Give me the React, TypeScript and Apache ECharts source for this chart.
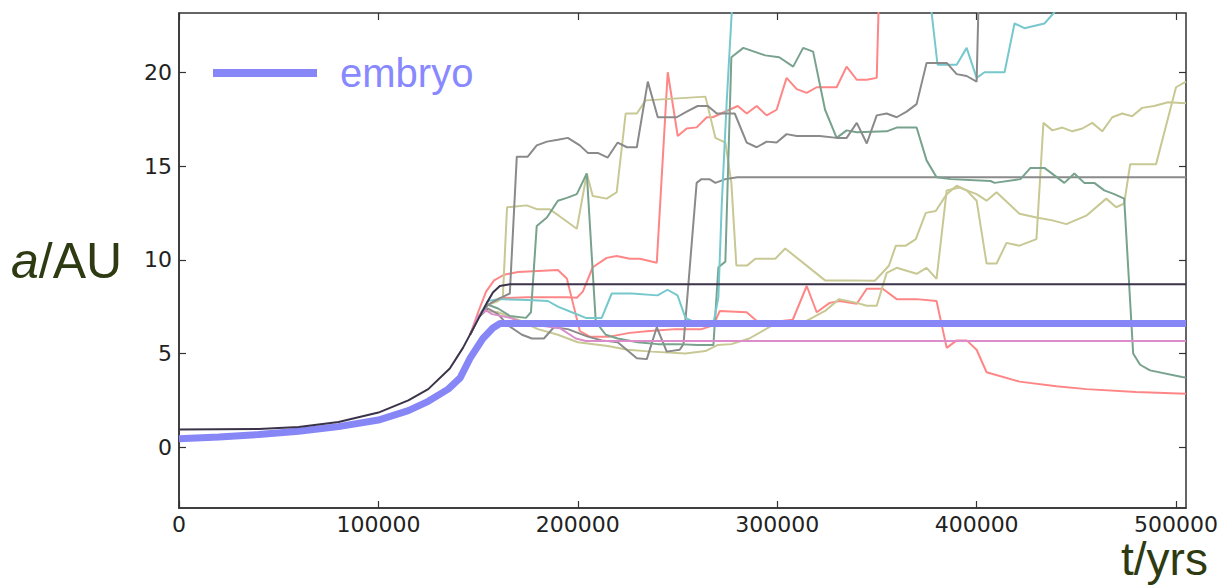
import React, { useEffect, useRef } from "react";
import * as echarts from "echarts";

// ---- data (t in years, a in AU) ----
const xTicks = [0, 100000, 200000, 300000, 400000, 500000];
const yTicks = [0, 5, 10, 15, 20];

const embryo: number[][] = [[0,0.45],[20000,0.55],[40000,0.68],[60000,0.85],[80000,1.1],[100000,1.45],[115000,1.95],[125000,2.45],[135000,3.1],[141000,3.7],[146000,4.75],[152400,5.8],[157400,6.36],[161000,6.6],[505000,6.6]];

const dark: number[][] = [[0,0.95],[40000,0.97],[60000,1.08],[80000,1.35],[100000,1.85],[115000,2.5],[125000,3.1],[135800,4.2],[142400,5.3],[149400,6.7],[154400,7.7],[157400,8.25],[160900,8.6],[166000,8.7],[505000,8.7]];

const red1: number[][] = [[146000,6.0],[150000,6.9],[155000,7.6],[160900,7.95],[174400,8.0],[194500,8.0],[199500,7.97],[202500,8.3],[207500,9.6],[214500,10.1],[219500,10.2],[226100,10.05],[231100,10.05],[239600,9.84],[245100,20.0],[250100,16.6],[254600,17.0],[259600,17.06],[264700,17.6],[267700,17.6],[280200,18.2],[284700,17.8],[289700,18.2],[294700,17.7],[299700,18.0],[304700,19.7],[309800,19.1],[314800,18.9],[319800,19.2],[329800,19.2],[334800,20.3],[339900,19.6],[344900,19.6],[349900,19.7],[351500,26]];

const red2: number[][] = [[146000,6.0],[150000,7.2],[154000,8.3],[158000,8.9],[163000,9.2],[170000,9.35],[180000,9.4],[190000,9.45],[194500,9.0],[198000,7.5],[201000,6.2],[206000,5.9],[216000,5.9],[226000,6.1],[236000,6.2],[249000,6.3],[262000,6.3],[268000,6.5],[271200,7.27],[284700,7.2],[291200,6.6],[307800,6.8],[314800,8.6],[319800,7.2],[326300,7.7],[331300,7.8],[339900,7.65],[344900,8.45],[352900,8.45],[359900,7.9],[369900,7.9],[379900,7.8],[385000,5.3],[390000,5.7],[395000,5.7],[400000,5.2],[405000,4.0],[421500,3.5],[440000,3.25],[455100,3.1],[480000,2.95],[505000,2.85]];

const gray1: number[][] = [[146000,6.0],[150000,6.9],[155000,7.6],[160000,7.9],[165900,8.2],[169400,15.5],[174900,15.5],[179400,16.1],[184500,16.3],[190000,16.4],[195000,16.5],[201000,16.1],[205000,15.7],[210000,15.7],[215000,15.45],[220000,16.25],[224600,16.0],[229600,16.0],[235100,19.5],[240100,17.6],[249600,17.6],[254600,17.9],[260100,18.2],[265200,18.2],[269700,17.8],[278700,17.8],[284700,16.25],[289700,16.0],[294700,16.3],[299700,16.25],[304700,16.7],[309800,16.6],[321300,16.6],[329800,16.5],[334800,16.5],[339900,17.3],[344900,16.2],[349900,17.7],[354900,17.8],[359900,17.6],[364900,17.9],[369900,18.3],[374900,20.5],[385000,20.5],[390000,19.9],[395000,19.8],[400000,19.5],[401500,26]];

const gray2: number[][] = [[146000,6.0],[150000,6.9],[155000,7.4],[160000,7.1],[165000,6.5],[172000,6.0],[177000,5.8],[183000,5.8],[188000,6.4],[195000,6.3],[205000,5.9],[212000,5.7],[220000,5.6],[229600,4.75],[234600,4.7],[239600,6.4],[244600,5.1],[251100,5.2],[253000,5.5],[259600,14.1],[262000,14.3],[266000,14.3],[269000,14.1],[274000,14.3],[280000,14.4],[505000,14.4]];

const olive1: number[][] = [[146000,6.0],[150000,6.9],[155000,7.6],[160000,7.8],[162400,8.0],[164500,12.8],[174400,12.9],[179400,12.7],[185700,12.7],[190500,12.35],[199500,11.65],[204500,14.6],[207500,13.4],[214500,13.26],[219500,13.6],[224000,17.8],[229600,17.8],[234000,18.5],[264000,18.7],[269000,16.5],[274000,16.25],[277000,14.1],[279500,9.7],[285000,9.7],[289000,10.05],[299000,10.05],[304000,10.6],[324000,8.9],[336000,8.9],[349000,8.88],[356000,9.68],[359500,10.75],[364500,10.75],[369500,11.1],[374500,12.5],[379500,12.6],[385000,13.5],[390000,13.95],[395000,13.7],[400000,13.15],[405000,9.8],[410000,9.8],[415000,10.9],[421500,10.75],[430000,11.1],[433500,17.3],[438000,16.9],[443000,17.05],[448000,16.85],[453000,17.0],[458000,17.3],[463000,16.85],[468000,17.6],[473000,17.8],[478000,17.65],[483000,18.1],[489000,18.2],[496000,18.4],[505000,18.35]];

const olive2: number[][] = [[146000,6.0],[150000,6.9],[152000,7.3],[160000,7.2],[170000,6.8],[180000,6.3],[190000,6.0],[200000,5.6],[215000,5.4],[225000,5.2],[237000,5.1],[254000,5.0],[264000,5.13],[270000,5.45],[277000,5.5],[286000,5.8],[291000,6.1],[297000,6.47],[307000,6.47],[314000,6.7],[324000,7.27],[331000,7.9],[339900,7.7],[344900,7.55],[349900,7.55],[354900,9.3],[359900,9.57],[369900,9.25],[374900,9.57],[379900,8.98],[385000,13.7],[391500,13.85],[400000,13.5],[405000,13.15],[410000,13.6],[421500,12.45],[430000,12.25],[438000,12.1],[445000,11.9],[455000,12.35],[465000,13.26],[470000,12.8],[474000,13.0],[477000,15.1],[490000,15.1],[500000,19.2],[505000,19.5]];

const teal: number[][] = [[146000,6.0],[150000,6.9],[155000,7.6],[160000,7.4],[166000,7.0],[174000,6.9],[176500,7.2],[179400,11.8],[184500,12.25],[190000,13.15],[194500,13.3],[199500,13.5],[204500,14.6],[209000,6.7],[214000,6.0],[220000,5.8],[230000,5.6],[240000,5.5],[250000,5.5],[260000,5.45],[268000,5.45],[270500,9.6],[274000,9.9],[277000,20.8],[283000,21.3],[294000,20.9],[301000,20.8],[308000,20.3],[313000,21.3],[318000,21.1],[324000,18.0],[329800,16.5],[334800,16.9],[339900,16.8],[354900,16.85],[359900,17.05],[369900,17.05],[374900,15.3],[379900,14.4],[387000,14.3],[407000,14.2],[409000,14.1],[422000,14.3],[427000,14.9],[434000,14.9],[444000,14.1],[449000,14.6],[454000,14.1],[459000,14.1],[464000,13.7],[469000,13.5],[474000,13.26],[478500,5.0],[482000,4.4],[487000,4.1],[503000,3.75],[505000,3.72]];

const cyan: number[][] = [[146000,6.0],[150000,6.9],[155000,7.8],[160000,7.9],[175000,7.85],[185000,7.8],[190000,7.5],[197000,7.2],[204000,6.9],[212000,6.9],[217000,8.2],[227000,8.2],[240000,8.1],[245000,8.4],[250000,8.1],[254000,6.9],[262000,6.5],[268000,6.6],[270500,8.0],[272200,13.0],[274700,18.5],[277200,23.2],[278500,26],[376000,26],[377400,23.2],[380400,20.4],[385000,20.4],[390000,20.4],[395000,21.3],[400000,19.7],[404000,20.0],[414000,20.0],[419000,22.6],[424000,22.35],[434000,22.6],[439000,23.2],[441000,26]];

const pink: number[][] = [[146000,6.0],[150000,7.0],[154000,7.3],[157000,7.1],[166000,6.9],[174000,6.6],[191000,6.35],[199000,5.8],[204000,5.67],[505000,5.67]];

const thin = [
  { name: "r1", data: red1, color: "#ff8686" },
  { name: "r2", data: red2, color: "#ff8686" },
  { name: "o1", data: olive1, color: "#c8c894" },
  { name: "o2", data: olive2, color: "#c8c894" },
  { name: "g2", data: gray2, color: "#8a8a8a" },
  { name: "t", data: teal, color: "#78a28e" },
  { name: "c", data: cyan, color: "#76c8cc" },
  { name: "g1", data: gray1, color: "#8a8a8a" },
  { name: "p", data: pink, color: "#dc8cc8" },
];

const X_MIN = 0, X_MAX = 505000, Y_MIN = -3.24, Y_MAX = 23.16;

export default function App() {
  const ref = useRef<HTMLDivElement>(null);
  useEffect(() => {
    if (!ref.current) return;
    const chart = echarts.init(ref.current, null, { renderer: "svg" });
    const mkLine = () => ({ show: true, onZero: false, lineStyle: { color: "#333", width: 1.5 } });
    const mkTick = () => ({ show: true, inside: true, length: 7, lineStyle: { color: "#333", width: 1.2 } });
    const lbl = { fontFamily: "DejaVu Sans", fontSize: 22, color: "#222" };
    // mirrored inward ticks on the top and right edges (length 7 px expressed in data units)
    const plotW = 1007, plotH = 495;
    const dx = (7 * (X_MAX - X_MIN)) / plotW;
    const dy = (7 * (Y_MAX - Y_MIN)) / plotH;
    const mirrorTicks: any[] = [
      ...xTicks.map((v) => [{ coord: [v, Y_MAX] }, { coord: [v, Y_MAX - dy] }]),
      ...yTicks.map((v) => [{ coord: [X_MAX, v] }, { coord: [X_MAX - dx, v] }]),
    ];
    const series: any[] = thin.map((s) => ({
      type: "line", name: s.name, data: s.data, showSymbol: false, symbol: "none",
      lineStyle: { color: s.color, width: 2 }, itemStyle: { color: s.color }, clip: true, silent: true,
    }));
    series.push({
      type: "line", name: "embryo", data: embryo, showSymbol: false, symbol: "none",
      lineStyle: { color: "#8686f6", width: 7 }, itemStyle: { color: "#8686f6" }, clip: true, silent: true,
    });
    series.push({
      type: "line", name: "dark", data: dark, showSymbol: false, symbol: "none",
      lineStyle: { color: "#3b3349", width: 2 }, itemStyle: { color: "#3b3349" }, clip: true, silent: true,
      markLine: {
        silent: true, symbol: ["none", "none"], label: { show: false },
        lineStyle: { color: "#333", width: 1.2, type: "solid" },
        emphasis: { disabled: true },
        data: mirrorTicks,
      },
    });
    chart.setOption({
      animation: false,
      backgroundColor: "#fff",
      grid: { left: 179, top: 13, width: plotW, height: plotH, containLabel: false, show: true, borderColor: "#333", borderWidth: 1.5, backgroundColor: "transparent" },
      legend: {
        data: ["embryo"], left: 213, top: 51, padding: 0, icon: "rect", itemWidth: 104, itemHeight: 8,
        textStyle: { color: "#8888ff", fontSize: 40, lineHeight: 44, fontFamily: "Liberation Sans", padding: [0, 0, 0, 18] },
        selectedMode: false,
      },
      xAxis: [
        {
          type: "value", min: X_MIN, max: X_MAX, position: "bottom", axisLine: mkLine(), axisTick: mkTick(),
          splitLine: { show: false },
          axisLabel: { ...lbl, margin: 5, showMaxLabel: false, formatter: (v: number) => (xTicks.includes(v) ? String(v) : "") },
        },
      ],
      yAxis: [
        {
          type: "value", min: Y_MIN, max: Y_MAX, position: "left", axisLine: mkLine(), axisTick: mkTick(),
          splitLine: { show: false },
          axisLabel: { ...lbl, margin: 7, showMinLabel: false, showMaxLabel: false, formatter: (v: number) => (yTicks.includes(v) ? String(v) : "") },
        },
      ],
      graphic: [
        {
          type: "text", left: 11, top: 236,
          style: {
            text: "{i|a}{n|/AU}",
            rich: {
              i: { fontStyle: "italic", fontSize: 50, lineHeight: 52, fontFamily: "Liberation Sans", fill: "#2e3b12" },
              n: { fontSize: 50, lineHeight: 52, fontFamily: "Liberation Sans", fill: "#2e3b12" },
            },
          },
        },
        {
          type: "text", x: 1121, y: 578,
          style: { text: "t/yrs", fontSize: 46, lineHeight: 38, fontFamily: "Liberation Sans", fill: "#2e3b12", verticalAlign: "bottom" },
        },
      ],
      series,
    });
    return () => chart.dispose();
  }, []);
  return <div ref={ref} style={{ position: "absolute", left: 0, top: 0, width: 1227, height: 586 }} />;
}
